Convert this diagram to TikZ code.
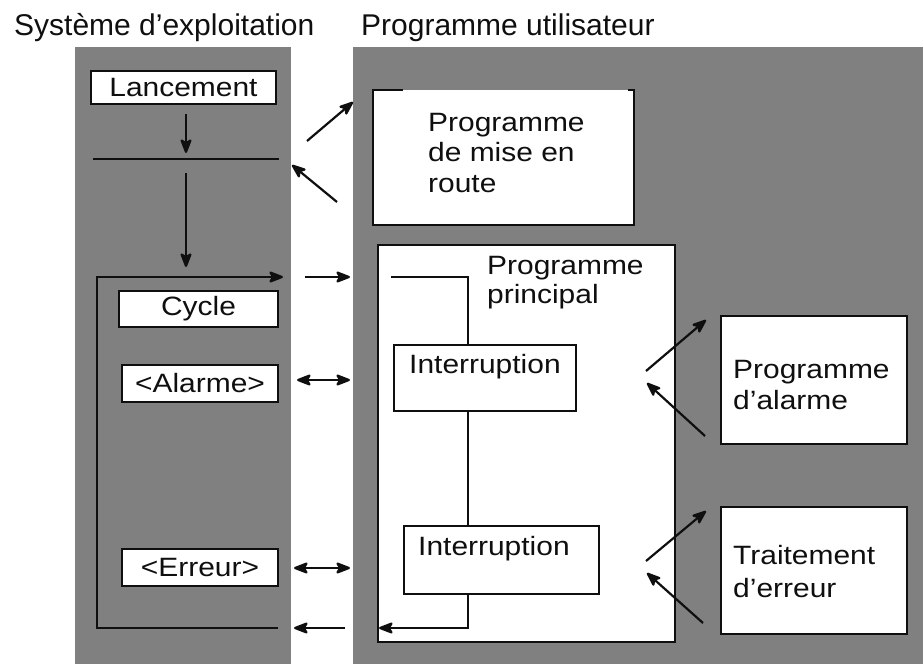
\documentclass[tikz,border=0pt]{standalone}
\usepackage{fontspec}
\setmainfont{Liberation Sans}
\newfontfamily\bodyfont[FakeStretch=1.13]{Liberation Sans}
\usetikzlibrary{arrows.meta}
\definecolor{panelgray}{RGB}{128,128,128}
\definecolor{inkc}{RGB}{15,15,15}
\begin{document}
\begin{tikzpicture}[x=1pt,y=-1pt,
  wbox/.style={draw=inkc, fill=white, line width=2pt, inner sep=0pt, text=inkc,
    font=\bodyfont\fontsize{26.5}{30.5}\selectfont},
  lbl/.style={inner sep=0pt, anchor=base west, align=left, text=inkc,
    font=\bodyfont\fontsize{26.5}{30.5}\selectfont},
  ttl/.style={inner sep=0pt, anchor=base west, text=inkc, font=\fontsize{30}{36}\selectfont},
  ln/.style={draw=inkc, line width=2.2pt},
  arr/.style={ln, -{Stealth[length=17pt,width=13pt,inset=4pt,round]}},
  darr/.style={ln, {Stealth[length=17pt,width=13pt,inset=4pt,round]}-{Stealth[length=17pt,width=13pt,inset=4pt,round]}},
]
\useasboundingbox (0,0) rectangle (923,664);
% panels
\fill[panelgray] (75,47) rectangle (291,664);
\fill[panelgray] (353,47) rectangle (923,664);
% titles
\node[ttl] (t1) at (14,35) {Système d’exploitation};
\node[ttl] (t2) at (361,35) {Programme utilisateur};
% left column
\node[wbox, minimum width=185, minimum height=33] (lanc) at (183.5,87.5) {Lancement};
\coordinate (hl1) at (93,159);
\coordinate (hl2) at (279,159);
\draw[ln] (hl1) -- (hl2);
\coordinate (loopTL) at (97,277);
\coordinate (loopTR) at (283,277);
\coordinate (loopBL) at (97,628);
\coordinate (loopBR) at (278,628);
\draw[arr, shorten <=9pt, shorten >=6pt] (lanc.south -| 186,0) -- (hl1 -| 186,0);
\draw[arr, shorten <=14pt, shorten >=10pt] (hl1 -| 186,0) -- (loopTL -| 186,0);
\draw[arr] (loopBR) -- (loopBL) -- (loopTL) -- (loopTR);
\node[wbox, minimum width=159, minimum height=36] (cyc) at (198.5,309) {Cycle};
\node[wbox, minimum width=156, minimum height=37] (alm) at (200,383.5) {<Alarme>};
\node[wbox, minimum width=156, minimum height=37] (err) at (200,567.5) {<Erreur>};
% start-up program
\node[fill=white, draw=none, inner sep=0pt, minimum width=261, minimum height=135] (mer) at (503.5,157.5) {};
\draw[ln] ([xshift=30pt]mer.north west) -- (mer.north west) -- (mer.south west)
  -- (mer.south east) -- (mer.north east) -- ([xshift=-6pt]mer.north east);
\node[lbl] (mert) at (428,192) {Programme\\de mise en\\route};
% arrows between OS and start-up program
\coordinate (u1a) at (307,141); \coordinate (u1b) at (353,102);
\coordinate (u2a) at (337,202); \coordinate (u2b) at (292,165);
\draw[arr] (u1a) -- (u1b);
\draw[arr] (u2a) -- (u2b);
% main program
\node[wbox, minimum width=297, minimum height=397] (pp) at (526.5,443.5) {};
\node[lbl, font=\bodyfont\fontsize{26.5}{28.5}\selectfont] (ppt) at (487,303) {Programme\\principal};
\node[wbox, minimum width=182, minimum height=66] (int1) at (485,378) {};
\node[lbl] (int1t) at (409,373) {Interruption};
\node[wbox, minimum width=195, minimum height=68] (int2) at (501.5,560) {};
\node[lbl] (int2t) at (418,555) {Interruption};
\coordinate (ps) at (391,277);
\coordinate (pv) at (468,277);
\coordinate (pb) at (468,628);
\draw[ln] (ps) -- (pv) -- (int1.north -| pv);
\draw[ln] (int1.south -| pv) -- (int2.north -| pv);
\draw[arr] (int2.south -| pv) -- (pb) -- ([xshift=2pt]pb -| pp.west);
% arrows between OS and main program
\coordinate (m1a) at (305,277); \coordinate (m1b) at (350,277);
\draw[arr] (m1a) -- (m1b);
\coordinate (m2a) at (297,380); \coordinate (m2b) at (350,380);
\draw[darr] (m2a) -- (m2b);
\coordinate (m3a) at (294,568); \coordinate (m3b) at (350,568);
\draw[darr] (m3a) -- (m3b);
\coordinate (m4a) at (345,628); \coordinate (m4b) at (294,628);
\draw[arr] (m4a) -- (m4b);
% alarm and error programs
\node[wbox, minimum width=186, minimum height=128] (palm) at (814,380) {};
\node[lbl] (palmt) at (733,409) {Programme\\d’alarme};
\node[wbox, minimum width=186, minimum height=127] (perr) at (814,570.5) {};
\node[lbl, font=\bodyfont\fontsize{26.5}{32.5}\selectfont] (perrt) at (733,597) {Traitement\\d’erreur};
\coordinate (r1a) at (646,371); \coordinate (r1b) at (706,320);
\coordinate (r2a) at (705,436); \coordinate (r2b) at (647,383);
\coordinate (r3a) at (646,561); \coordinate (r3b) at (706,511);
\coordinate (r4a) at (703,623); \coordinate (r4b) at (647,573);
\draw[arr] (r1a) -- (r1b);
\draw[arr] (r2a) -- (r2b);
\draw[arr] (r3a) -- (r3b);
\draw[arr] (r4a) -- (r4b);
\end{tikzpicture}
\end{document}
